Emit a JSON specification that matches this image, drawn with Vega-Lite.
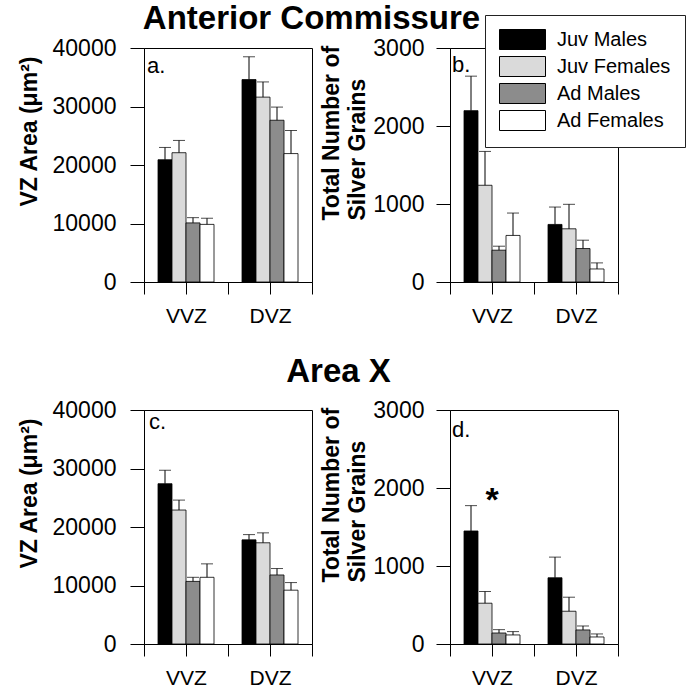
{
  "$schema": "https://vega.github.io/schema/vega-lite/v6.json",
  "autosize": {"type": "pad"},
  "padding": {"left": 17, "top": 2, "right": 6, "bottom": 5},
  "spacing": 28,
  "config": {
    "font": "Liberation Sans",
    "view": {"stroke": "black", "strokeWidth": 1},
    "axis": {"domainColor": "black", "tickColor": "black", "labelColor": "black", "titleColor": "black", "grid": false, "domainWidth": 1, "tickWidth": 1, "labelFont": "Liberation Sans", "titleFont": "Liberation Sans"},
    "title": {"font": "Liberation Sans", "fontSize": 33, "fontWeight": "bold", "color": "black"},
    "legend": {"labelFont": "Liberation Sans"}
  },
  "datasets": {
    "bars": [
      {"panel": "a", "zone": "VVZ", "group": "Juv Males", "mean": 20900, "upper": 23000},
      {"panel": "a", "zone": "VVZ", "group": "Juv Females", "mean": 22100, "upper": 24200},
      {"panel": "a", "zone": "VVZ", "group": "Ad Males", "mean": 10100, "upper": 11000},
      {"panel": "a", "zone": "VVZ", "group": "Ad Females", "mean": 9850, "upper": 10900},
      {"panel": "a", "zone": "DVZ", "group": "Juv Males", "mean": 34600, "upper": 38500},
      {"panel": "a", "zone": "DVZ", "group": "Juv Females", "mean": 31600, "upper": 34200},
      {"panel": "a", "zone": "DVZ", "group": "Ad Males", "mean": 27650, "upper": 29900},
      {"panel": "a", "zone": "DVZ", "group": "Ad Females", "mean": 21950, "upper": 25900},
      {"panel": "b", "zone": "VVZ", "group": "Juv Males", "mean": 2197, "upper": 2639},
      {"panel": "b", "zone": "VVZ", "group": "Juv Females", "mean": 1240, "upper": 1674},
      {"panel": "b", "zone": "VVZ", "group": "Ad Males", "mean": 408, "upper": 459},
      {"panel": "b", "zone": "VVZ", "group": "Ad Females", "mean": 597, "upper": 884},
      {"panel": "b", "zone": "DVZ", "group": "Juv Males", "mean": 738, "upper": 961},
      {"panel": "b", "zone": "DVZ", "group": "Juv Females", "mean": 682, "upper": 996},
      {"panel": "b", "zone": "DVZ", "group": "Ad Males", "mean": 429, "upper": 536},
      {"panel": "b", "zone": "DVZ", "group": "Ad Females", "mean": 167, "upper": 245},
      {"panel": "c", "zone": "VVZ", "group": "Juv Males", "mean": 27400, "upper": 29700},
      {"panel": "c", "zone": "VVZ", "group": "Juv Females", "mean": 22900, "upper": 24600},
      {"panel": "c", "zone": "VVZ", "group": "Ad Males", "mean": 10700, "upper": 11400},
      {"panel": "c", "zone": "VVZ", "group": "Ad Females", "mean": 11400, "upper": 13700},
      {"panel": "c", "zone": "DVZ", "group": "Juv Males", "mean": 17800, "upper": 18700},
      {"panel": "c", "zone": "DVZ", "group": "Juv Females", "mean": 17300, "upper": 19000},
      {"panel": "c", "zone": "DVZ", "group": "Ad Males", "mean": 11800, "upper": 12900},
      {"panel": "c", "zone": "DVZ", "group": "Ad Females", "mean": 9200, "upper": 10500},
      {"panel": "d", "zone": "VVZ", "group": "Juv Males", "mean": 1449, "upper": 1774},
      {"panel": "d", "zone": "VVZ", "group": "Juv Females", "mean": 523, "upper": 673},
      {"panel": "d", "zone": "VVZ", "group": "Ad Males", "mean": 141, "upper": 184},
      {"panel": "d", "zone": "VVZ", "group": "Ad Females", "mean": 116, "upper": 159},
      {"panel": "d", "zone": "DVZ", "group": "Juv Males", "mean": 849, "upper": 1114},
      {"panel": "d", "zone": "DVZ", "group": "Juv Females", "mean": 420, "upper": 600},
      {"panel": "d", "zone": "DVZ", "group": "Ad Males", "mean": 180, "upper": 231},
      {"panel": "d", "zone": "DVZ", "group": "Ad Females", "mean": 90, "upper": 129}
    ]
  },
  "vconcat": [
    {
      "title": {"text": "Anterior Commissure", "anchor": "middle", "frame": "group", "dx": 167.5, "baseline": "alphabetic", "offset": -25},
      "spacing": 6,
      "hconcat": [
        {
          "width": 168, "height": 234,
          "data": {"name": "bars"},
          "transform": [{"filter": "datum.panel === 'a'"}],
          "resolve": {"axis": {"x": "independent"}},
          "layer": [
            {
              "mark": {"type": "bar", "stroke": "black", "strokeWidth": 0.8},
              "encoding": {
                "x": {"field": "zone", "type": "nominal", "sort": ["VVZ", "DVZ"], "scale": {"domain": ["VVZ", "DVZ"], "paddingInner": 0, "paddingOuter": 0},
                      "axis": {"orient": "bottom", "tickBand": "extent", "tickSize": 12, "labelPadding": 11, "labelFontSize": 21, "labelAngle": 0, "title": null}},
                "xOffset": {"field": "group", "type": "nominal", "sort": ["Juv Males", "Juv Females", "Ad Males", "Ad Females"], "scale": {"domain": ["Juv Males", "Juv Females", "Ad Males", "Ad Females"], "paddingInner": 0, "paddingOuter": 2.08}},
                "y": {"field": "mean", "type": "quantitative", "scale": {"domain": [0, 40000], "nice": false},
                      "axis": {"values": [0, 10000, 20000, 30000, 40000], "format": "d", "tickSize": 14, "labelPadding": 14, "labelFontSize": 23, "labelFlush": false, "labelOverlap": false, "title": "VZ Area (μm²)", "titleFontSize": 23, "titleFontWeight": "bold", "titleAngle": -90, "titleAlign": "left", "titleBaseline": "alphabetic", "titleX": -108, "titleY": 158}},
                "fill": {"field": "group", "type": "nominal", "sort": ["Juv Males", "Juv Females", "Ad Males", "Ad Females"], "scale": {"domain": ["Juv Males", "Juv Females", "Ad Males", "Ad Females"], "range": ["#000000", "#dadada", "#8c8c8c", "#ffffff"]},
                         "legend": {"orient": "none", "legendX": 341, "legendY": -33, "title": null, "symbolType": "M-2.3,-1H2.3V1H-2.3Z", "symbolSize": 400, "symbolStrokeColor": "#333333", "symbolStrokeWidth": 1, "labelFontSize": 20, "labelColor": "black", "labelOffset": 24, "symbolOffset": 13, "rowPadding": 2, "padding": 14, "strokeColor": "#222222", "fillColor": "white", "labelLimit": 300}}
              }
            },
            {
              "mark": {"type": "rule", "color": "black", "strokeWidth": 1},
              "encoding": {
                "x": {"field": "zone", "type": "nominal", "axis": {"orient": "bottom", "tickSize": 12, "labels": false, "domain": false, "title": null}},
                "xOffset": {"field": "group", "type": "nominal"},
                "y": {"field": "mean", "type": "quantitative"},
                "y2": {"field": "upper"}
              }
            },
            {
              "mark": {"type": "tick", "color": "black", "thickness": 1, "size": 12, "orient": "horizontal"},
              "encoding": {
                "x": {"field": "zone", "type": "nominal", "axis": null},
                "xOffset": {"field": "group", "type": "nominal"},
                "y": {"field": "upper", "type": "quantitative"}
              }
            },
            {
              "data": {"values": [{"panel": "a", "label": "a."}]},
              "mark": {"type": "text", "align": "left", "baseline": "alphabetic", "fontSize": 22, "dx": 3, "color": "black"},
              "encoding": {
                "x": {"datum": "VVZ", "bandPosition": 0, "axis": null},
                "y": {"datum": 35700, "type": "quantitative"},
                "text": {"field": "label"}
              }
            }
          ]
        },
        {
          "width": 168, "height": 234,
          "data": {"name": "bars"},
          "transform": [{"filter": "datum.panel === 'b'"}],
          "resolve": {"axis": {"x": "independent"}},
          "layer": [
            {
              "mark": {"type": "bar", "stroke": "black", "strokeWidth": 0.8},
              "encoding": {
                "x": {"field": "zone", "type": "nominal", "sort": ["VVZ", "DVZ"], "scale": {"domain": ["VVZ", "DVZ"], "paddingInner": 0, "paddingOuter": 0},
                      "axis": {"orient": "bottom", "tickBand": "extent", "tickSize": 12, "labelPadding": 11, "labelFontSize": 21, "labelAngle": 0, "title": null}},
                "xOffset": {"field": "group", "type": "nominal", "sort": ["Juv Males", "Juv Females", "Ad Males", "Ad Females"], "scale": {"domain": ["Juv Males", "Juv Females", "Ad Males", "Ad Females"], "paddingInner": 0, "paddingOuter": 2.08}},
                "y": {"field": "mean", "type": "quantitative", "scale": {"domain": [0, 3000], "nice": false},
                      "axis": {"values": [0, 1000, 2000, 3000], "format": "d", "tickSize": 14, "labelPadding": 12, "labelFontSize": 23, "labelFlush": false, "labelOverlap": false, "title": ["Total Number of", "Silver Grains"], "titleFontSize": 23, "titleFontWeight": "bold", "titleLineHeight": 26, "titleAngle": -90, "titleAlign": "left", "titleBaseline": "alphabetic", "titleX": -112, "titleY": 172}},
                "fill": {"field": "group", "type": "nominal", "sort": ["Juv Males", "Juv Females", "Ad Males", "Ad Females"], "scale": {"domain": ["Juv Males", "Juv Females", "Ad Males", "Ad Females"], "range": ["#000000", "#dadada", "#8c8c8c", "#ffffff"]}}
              }
            },
            {
              "mark": {"type": "rule", "color": "black", "strokeWidth": 1},
              "encoding": {
                "x": {"field": "zone", "type": "nominal", "axis": {"orient": "bottom", "tickSize": 12, "labels": false, "domain": false, "title": null}},
                "xOffset": {"field": "group", "type": "nominal"},
                "y": {"field": "mean", "type": "quantitative"},
                "y2": {"field": "upper"}
              }
            },
            {
              "mark": {"type": "tick", "color": "black", "thickness": 1, "size": 12, "orient": "horizontal"},
              "encoding": {
                "x": {"field": "zone", "type": "nominal", "axis": null},
                "xOffset": {"field": "group", "type": "nominal"},
                "y": {"field": "upper", "type": "quantitative"}
              }
            },
            {
              "data": {"values": [{"panel": "b", "label": "b."}]},
              "mark": {"type": "text", "align": "left", "baseline": "alphabetic", "fontSize": 22, "dx": 2, "color": "black"},
              "encoding": {
                "x": {"datum": "VVZ", "bandPosition": 0, "axis": null},
                "y": {"datum": 2692, "type": "quantitative"},
                "text": {"field": "label"}
              }
            }
          ]
        }
      ]
    },
    {
      "title": {"text": "Area X", "anchor": "middle", "frame": "group", "dx": 194.5, "baseline": "alphabetic", "offset": -16},
      "spacing": 6,
      "hconcat": [
        {
          "width": 168, "height": 234,
          "data": {"name": "bars"},
          "transform": [{"filter": "datum.panel === 'c'"}],
          "resolve": {"axis": {"x": "independent"}},
          "layer": [
            {
              "mark": {"type": "bar", "stroke": "black", "strokeWidth": 0.8},
              "encoding": {
                "x": {"field": "zone", "type": "nominal", "sort": ["VVZ", "DVZ"], "scale": {"domain": ["VVZ", "DVZ"], "paddingInner": 0, "paddingOuter": 0},
                      "axis": {"orient": "bottom", "tickBand": "extent", "tickSize": 12, "labelPadding": 11, "labelFontSize": 21, "labelAngle": 0, "title": null}},
                "xOffset": {"field": "group", "type": "nominal", "sort": ["Juv Males", "Juv Females", "Ad Males", "Ad Females"], "scale": {"domain": ["Juv Males", "Juv Females", "Ad Males", "Ad Females"], "paddingInner": 0, "paddingOuter": 2.08}},
                "y": {"field": "mean", "type": "quantitative", "scale": {"domain": [0, 40000], "nice": false},
                      "axis": {"values": [0, 10000, 20000, 30000, 40000], "format": "d", "tickSize": 14, "labelPadding": 14, "labelFontSize": 23, "labelFlush": false, "labelOverlap": false, "title": "VZ Area (μm²)", "titleFontSize": 23, "titleFontWeight": "bold", "titleAngle": -90, "titleAlign": "left", "titleBaseline": "alphabetic", "titleX": -108, "titleY": 158}},
                "fill": {"field": "group", "type": "nominal", "sort": ["Juv Males", "Juv Females", "Ad Males", "Ad Females"], "scale": {"domain": ["Juv Males", "Juv Females", "Ad Males", "Ad Females"], "range": ["#000000", "#dadada", "#8c8c8c", "#ffffff"]}}
              }
            },
            {
              "mark": {"type": "rule", "color": "black", "strokeWidth": 1},
              "encoding": {
                "x": {"field": "zone", "type": "nominal", "axis": {"orient": "bottom", "tickSize": 12, "labels": false, "domain": false, "title": null}},
                "xOffset": {"field": "group", "type": "nominal"},
                "y": {"field": "mean", "type": "quantitative"},
                "y2": {"field": "upper"}
              }
            },
            {
              "mark": {"type": "tick", "color": "black", "thickness": 1, "size": 12, "orient": "horizontal"},
              "encoding": {
                "x": {"field": "zone", "type": "nominal", "axis": null},
                "xOffset": {"field": "group", "type": "nominal"},
                "y": {"field": "upper", "type": "quantitative"}
              }
            },
            {
              "data": {"values": [{"panel": "c", "label": "c."}]},
              "mark": {"type": "text", "align": "left", "baseline": "alphabetic", "fontSize": 22, "dx": 5, "color": "black"},
              "encoding": {
                "x": {"datum": "VVZ", "bandPosition": 0, "axis": null},
                "y": {"datum": 36750, "type": "quantitative"},
                "text": {"field": "label"}
              }
            }
          ]
        },
        {
          "width": 168, "height": 234,
          "data": {"name": "bars"},
          "transform": [{"filter": "datum.panel === 'd'"}],
          "resolve": {"axis": {"x": "independent"}},
          "layer": [
            {
              "mark": {"type": "bar", "stroke": "black", "strokeWidth": 0.8},
              "encoding": {
                "x": {"field": "zone", "type": "nominal", "sort": ["VVZ", "DVZ"], "scale": {"domain": ["VVZ", "DVZ"], "paddingInner": 0, "paddingOuter": 0},
                      "axis": {"orient": "bottom", "tickBand": "extent", "tickSize": 12, "labelPadding": 11, "labelFontSize": 21, "labelAngle": 0, "title": null}},
                "xOffset": {"field": "group", "type": "nominal", "sort": ["Juv Males", "Juv Females", "Ad Males", "Ad Females"], "scale": {"domain": ["Juv Males", "Juv Females", "Ad Males", "Ad Females"], "paddingInner": 0, "paddingOuter": 2.08}},
                "y": {"field": "mean", "type": "quantitative", "scale": {"domain": [0, 3000], "nice": false},
                      "axis": {"values": [0, 1000, 2000, 3000], "format": "d", "tickSize": 14, "labelPadding": 12, "labelFontSize": 23, "labelFlush": false, "labelOverlap": false, "title": ["Total Number of", "Silver Grains"], "titleFontSize": 23, "titleFontWeight": "bold", "titleLineHeight": 26, "titleAngle": -90, "titleAlign": "left", "titleBaseline": "alphabetic", "titleX": -112, "titleY": 172}},
                "fill": {"field": "group", "type": "nominal", "sort": ["Juv Males", "Juv Females", "Ad Males", "Ad Females"], "scale": {"domain": ["Juv Males", "Juv Females", "Ad Males", "Ad Females"], "range": ["#000000", "#dadada", "#8c8c8c", "#ffffff"]}}
              }
            },
            {
              "mark": {"type": "rule", "color": "black", "strokeWidth": 1},
              "encoding": {
                "x": {"field": "zone", "type": "nominal", "axis": {"orient": "bottom", "tickSize": 12, "labels": false, "domain": false, "title": null}},
                "xOffset": {"field": "group", "type": "nominal"},
                "y": {"field": "mean", "type": "quantitative"},
                "y2": {"field": "upper"}
              }
            },
            {
              "mark": {"type": "tick", "color": "black", "thickness": 1, "size": 12, "orient": "horizontal"},
              "encoding": {
                "x": {"field": "zone", "type": "nominal", "axis": null},
                "xOffset": {"field": "group", "type": "nominal"},
                "y": {"field": "upper", "type": "quantitative"}
              }
            },
            {
              "data": {"values": [{"panel": "d", "label": "d."}]},
              "mark": {"type": "text", "align": "left", "baseline": "alphabetic", "fontSize": 22, "dx": 2, "color": "black"},
              "encoding": {
                "x": {"datum": "VVZ", "bandPosition": 0, "axis": null},
                "y": {"datum": 2654, "type": "quantitative"},
                "text": {"field": "label"}
              }
            },
            {
              "data": {"values": [{"panel": "d", "label": "*"}]},
              "mark": {"type": "text", "align": "center", "baseline": "alphabetic", "fontSize": 34, "fontWeight": "bold", "color": "black"},
              "encoding": {
                "x": {"datum": "VVZ", "axis": null},
                "y": {"datum": 1705, "type": "quantitative"},
                "text": {"field": "label"}
              }
            }
          ]
        }
      ]
    }
  ]
}
